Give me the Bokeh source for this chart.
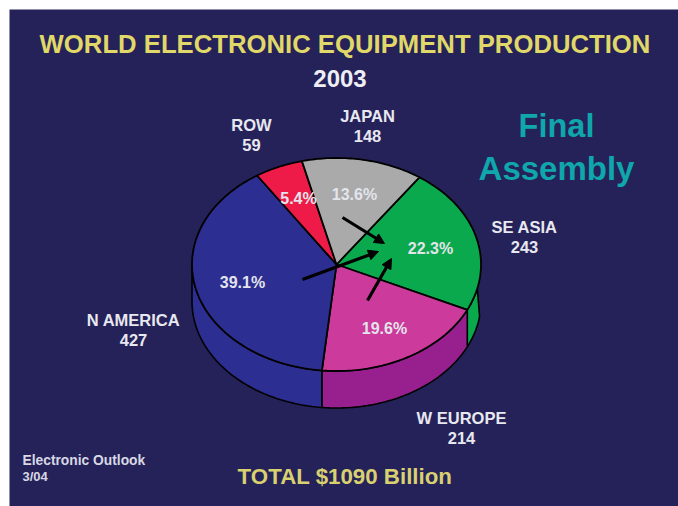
import math
from bokeh.plotting import figure
from bokeh.models import Arrow, NormalHead
from bokeh.core.properties import value
from bokeh.embed import file_html
from bokeh.resources import INLINE

# Regional output in $ billions, clockwise from the top right of the pie
regions = ["SE ASIA", "W EUROPE", "N AMERICA", "ROW", "JAPAN"]
amounts = [243, 214, 427, 59, 148]
shares = ["22.3%", "19.6%", "39.1%", "5.4%", "13.6%"]
top_colors = ["#0aa94d", "#cc3a9b", "#2c2e92", "#ee1b48", "#a9aaa9"]
side_colors = ["#0aa94d", "#98208e", "#2c2e92", None, None]

title = "WORLD ELECTRONIC EQUIPMENT PRODUCTION"
year = "2003"
total = "TOTAL $1090 Billion"
source = ["Electronic Outlook", "3/04"]
heading = ["Final", "Assembly"]

region_x = [524, 461, 133, 251, 367]
region_y = [226, 417, 319, 124, 115]
share_x = [430, 384, 242, 298, 354]
share_y = [248, 328, 282, 198, 194]

CX, CY, RX, RY, DEPTH = 336, 264, 144.5, 106.5, 37
START, WALL_LIMIT = 55.0, -180.0
TOP_WALL_END, LOW_WALL_END = -13.0, -8.0

BG = "#252259"
FONT = value("Liberation Sans")

p = figure(width=678, height=506, x_range=(0, 678), y_range=(506, 0),
           output_backend="svg", toolbar_location=None, min_border=0,
           x_axis_location=None, y_axis_location=None,
           background_fill_color="white", border_fill_color="white")
p.grid.visible = False
p.outline_line_color = None

p.quad(left=9, right=678, top=9, bottom=506, fill_color=BG, line_color=None)


def rim(deg, drop=0.0):
    r = math.radians(deg)
    return CX + RX * math.cos(r), CY - RY * math.sin(r) + drop


def arc(a0, a1, drop=0.0):
    n = max(2, int(abs(a1 - a0)) + 1)
    pts = [rim(a0 + (a1 - a0) * i / (n - 1), drop) for i in range(n)]
    return [q[0] for q in pts], [q[1] for q in pts]


# Slice boundaries follow from the amounts
whole = sum(amounts)
edges = [START]
for a in amounts:
    edges.append(edges[-1] - a / whole * 360)

# Outer wall of the disc, only on the side facing the viewer
for i, col in enumerate(side_colors):
    if col is None:
        continue
    a0 = min(edges[i], TOP_WALL_END)
    a1 = max(edges[i + 1], WALL_LIMIT)
    tx, ty = arc(a0, a1)
    bx, by = arc(a1, a0 if i else LOW_WALL_END, DEPTH)
    p.patch(tx + bx, ty + by, fill_color=col, line_color="black", line_width=1.6)

# Top face of the pie
for i, col in enumerate(top_colors):
    ax, ay = arc(edges[i], edges[i + 1])
    p.patch([CX] + ax, [CY] + ay, fill_color=col, line_color="black", line_width=1.8)

# Three arrows converging on the South East Asia slice
arrow_from = [(302, 279), (342, 217), (367, 300)]
arrow_to = [(378, 251), (384, 243), (391, 258)]
for (x0, y0), (x1, y1) in zip(arrow_from, arrow_to):
    p.add_layout(Arrow(end=NormalHead(size=10, fill_color="black", line_color="black"),
                       x_start=x0, y_start=y0, x_end=x1, y_end=y1,
                       line_color="black", line_width=3.2))


def label(x, y, txt, size, color, align="center"):
    p.text([x], [y], text=[txt], text_font=FONT, text_font_style="bold",
           text_font_size=f"{size}px", text_color=color,
           text_align=align, text_baseline="middle")


label(344.5, 43, title, 25.7, "#e0d868")
label(339.5, 78, year, 24, "#eeeef4")
label(344.5, 476, total, 22.3, "#d9d070")
label(22, 460, source[0], 13.8, "#d8d8e4", "left")
label(22, 476, source[1], 13, "#d8d8e4", "left")
label(556, 125, heading[0], 32.5, "#0fa6ac")
label(556, 168, heading[1], 33, "#0fa6ac")

for i, r in enumerate(regions):
    label(region_x[i], region_y[i], r, 16.5, "#e8e8f0")
    label(region_x[i], region_y[i] + 20, str(amounts[i]), 16.5, "#e8e8f0")
    label(share_x[i], share_y[i], shares[i], 16, "#e4e4ec")

open("out.html", "w").write(file_html(p, INLINE))
